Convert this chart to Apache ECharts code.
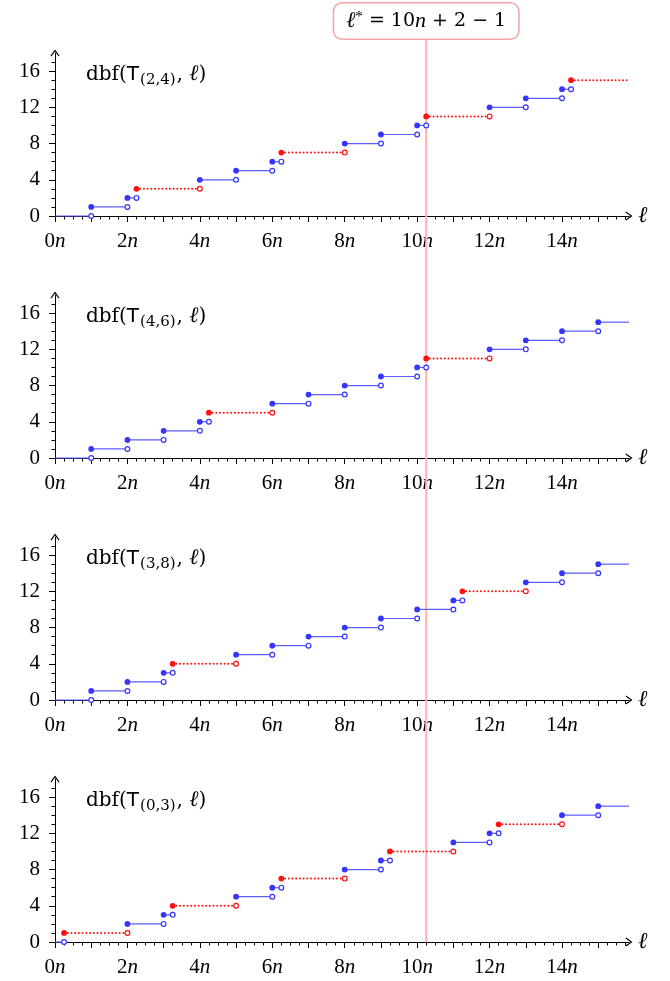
<!DOCTYPE html>
<html>
<head>
<meta charset="utf-8">
<script src="https://cdn.jsdelivr.net/npm/echarts@6/dist/echarts.min.js"></script>
<style>
html, body { margin: 0; padding: 0; background: #fff; }
#chart { width: 670px; height: 981px; }
</style>
</head>
<body>
<div id="chart"></div>
<script>
// x positions are in units of n; each step starts at starts[i] with value levels[i]
const panelNames = ['(2,4)', '(4,6)', '(3,8)', '(0,3)'];

const starts24 = [0, 1, 2, 2.25, 4, 5, 6, 6.25, 8, 9, 10, 10.25, 12, 13, 14, 14.25];
const levels24 = [0, 1, 2, 3, 4, 5, 6, 7, 8, 9, 10, 11, 12, 13, 14, 15];
const red24 = [3, 7, 11, 15];

const starts46 = [0, 1, 2, 3, 4, 4.25, 6, 7, 8, 9, 10, 10.25, 12, 13, 14, 15];
const levels46 = [0, 1, 2, 3, 4, 5, 6, 7, 8, 9, 10, 11, 12, 13, 14, 15];
const red46 = [5, 11];

const starts38 = [0, 1, 2, 3, 3.25, 5, 6, 7, 8, 9, 10, 11, 11.25, 13, 14, 15];
const levels38 = [0, 1, 2, 3, 4, 5, 6, 7, 8, 9, 10, 11, 12, 13, 14, 15];
const red38 = [4, 12];

const starts03 = [0, 0.25, 2, 3, 3.25, 5, 6, 6.25, 8, 9, 9.25, 11, 12, 12.25, 14, 15];
const levels03 = [0, 1, 2, 3, 4, 5, 6, 7, 8, 9, 10, 11, 12, 13, 14, 15];
const red03 = [1, 4, 7, 10, 13];

const xTickLabels = [0, 2, 4, 6, 8, 10, 12, 14];
const xMajorTicks = [0, 1, 2, 3, 4, 5, 6, 7, 8, 9, 10, 11, 12, 13, 14, 15];
const yTickLabels = [0, 4, 8, 12, 16];
const lStar = 10.25;
const xEnd = 15.85;
const yMax = 18;

const panels = [
  [starts24, levels24, red24],
  [starts46, levels46, red46],
  [starts38, levels38, red38],
  [starts03, levels03, red03]
];

const xMinorTicks = [];
for (let v = 0.25; v < xEnd; v += 0.25) xMinorTicks.push(v);
const yMinorTicks = [];
for (let v = 1; v < yMax; v++) yMinorTicks.push(v);

const BLUE = '#3535ff';
const BLUE_LINE = '#5c5cff';
const RED = '#ff1010';
const serif = 'Liberation Serif, DejaVu Serif, serif';
const wideSerif = 'DejaVu Serif, Liberation Serif, serif';

function segments(starts, levels, red) {
  return starts.map(function (s, i) {
    const last = i === starts.length - 1;
    const end = last ? xEnd : starts[i + 1];
    return [s, end, levels[i], red.indexOf(levels[i]) >= 0 ? 1 : 0, i === 0 ? 1 : 0, last ? 1 : 0];
  });
}

function renderStep(params, api) {
  const y = api.value(2);
  const p0 = api.coord([api.value(0), y]);
  const p1 = api.coord([api.value(1), y]);
  const isRed = api.value(3) === 1;
  const c = isRed ? RED : BLUE;
  const children = [{
    type: 'line',
    shape: { x1: p0[0], y1: p0[1], x2: p1[0], y2: p1[1] },
    style: isRed
      ? { stroke: RED, lineWidth: 2, lineDash: [0.01, 3.7], lineCap: 'round' }
      : { stroke: BLUE_LINE, lineWidth: 1.2 }
  }];
  if (api.value(4) !== 1) {
    children.push({ type: 'circle', shape: { cx: p0[0], cy: p0[1], r: 2.9 }, style: { fill: c } });
  }
  if (api.value(5) !== 1) {
    children.push({ type: 'circle', shape: { cx: p1[0], cy: p1[1], r: 2.4 }, style: { fill: '#fff', stroke: c, lineWidth: 1.2 } });
  }
  return { type: 'group', children: children };
}

const axisTops = [53, 295, 537, 779];
const arrowPath = 'path://M5,0 L10,7 L9,7.8 L5,2.2 L1,7.8 L0,7 Z';

const grids = [], xAxes = [], yAxes = [], series = [], titles = [];

axisTops.forEach(function (top, i) {
  grids.push({ left: 55, top: top, width: 574, height: 163, containLabel: false, outerBoundsMode: 'none' });

  xAxes.push({
    gridIndex: i, type: 'value', min: 0, max: xEnd, position: 'bottom',
    axisLine: { lineStyle: { color: '#000', width: 1 }, symbol: ['none', arrowPath], symbolSize: [9, 7] },
    axisTick: { customValues: xMajorTicks, length: 6, lineStyle: { color: '#000', width: 1 } },
    axisLabel: {
      customValues: xTickLabels, margin: 15, color: '#000',
      formatter: function (v) { return '{a|' + v + '}{i|n}'; },
      rich: {
        a: { fontFamily: serif, fontSize: 21, color: '#000' },
        i: { fontFamily: serif, fontSize: 21, fontStyle: 'italic', color: '#000' }
      }
    },
    splitLine: { show: false },
    name: 'ℓ', nameLocation: 'end', nameGap: 9,
    nameTextStyle: { fontFamily: serif, fontSize: 23, fontStyle: 'italic', color: '#000', verticalAlign: 'middle', padding: [0, 0, 2, 0] }
  });
  // second axis only carries the short quarter ticks
  xAxes.push({
    gridIndex: i, type: 'value', min: 0, max: xEnd, position: 'bottom',
    axisLine: { show: true, lineStyle: { color: 'rgba(0,0,0,0)' } },
    axisTick: { show: true, customValues: xMinorTicks, length: 3.5, lineStyle: { color: '#000', width: 1 } },
    axisLabel: { show: false },
    splitLine: { show: false }
  });

  yAxes.push({
    gridIndex: i, type: 'value', min: 0, max: yMax, position: 'left',
    axisLine: { lineStyle: { color: '#000', width: 1 }, symbol: ['none', arrowPath], symbolSize: [9, 7] },
    axisTick: { customValues: yTickLabels, length: 6, lineStyle: { color: '#000', width: 1 } },
    axisLabel: { customValues: yTickLabels, margin: 15, fontFamily: serif, fontSize: 21, color: '#000' },
    splitLine: { show: false }
  });
  yAxes.push({
    gridIndex: i, type: 'value', min: 0, max: yMax, position: 'left',
    axisLine: { show: true, lineStyle: { color: 'rgba(0,0,0,0)' } },
    axisTick: { show: true, customValues: yMinorTicks, length: 3.5, lineStyle: { color: '#000', width: 1 } },
    axisLabel: { show: false },
    splitLine: { show: false }
  });

  const p = panels[i];
  series.push({
    type: 'custom', xAxisIndex: 2 * i, yAxisIndex: 2 * i,
    data: segments(p[0], p[1], p[2]),
    encode: { x: [0, 1], y: 2 },
    renderItem: renderStep, clip: false, z: 3, silent: true
  });
  // empty series so the tick-only axes are laid out too
  series.push({
    type: 'line', xAxisIndex: 2 * i + 1, yAxisIndex: 2 * i + 1,
    data: [], silent: true, showSymbol: false
  });

  titles.push({
    left: 81, top: top + 3,
    text: '{r|dbf(}{t|T}{s|' + panelNames[i] + '}{r|, }{l|ℓ}{r|)}',
    textStyle: {
      fontWeight: 'normal',
      rich: {
        r: { fontFamily: wideSerif, fontSize: 20, fontWeight: 'normal', color: '#000' },
        t: { fontFamily: 'DejaVu Sans, Liberation Sans, sans-serif', fontSize: 20, fontWeight: 'normal', color: '#000' },
        s: { fontFamily: wideSerif, fontSize: 15, fontWeight: 'normal', color: '#000', padding: [12, 1, 0, 1] },
        l: { fontFamily: serif, fontSize: 22, fontStyle: 'italic', fontWeight: 'normal', color: '#000' }
      }
    }
  });
});

const chart = echarts.init(document.getElementById('chart'), null, { renderer: 'canvas' });
chart.setOption({
  animation: false,
  backgroundColor: '#fff',
  title: titles,
  grid: grids,
  xAxis: xAxes,
  yAxis: yAxes,
  series: series
});

// vertical marker at l* spanning all panels, with its label on top
const px = chart.convertToPixel({ gridIndex: 0 }, [lStar, 0])[0];
const yBottom = chart.convertToPixel({ gridIndex: 3 }, [lStar, 0])[1];
chart.setOption({
  graphic: [
    {
      type: 'line', z: 1,
      shape: { x1: px, y1: 36, x2: px, y2: yBottom },
      style: { stroke: '#ffb4b4', lineWidth: 2 }
    },
    {
      type: 'text', z: 10, x: px, y: 21,
      style: {
        text: '{i|ℓ}{sup|*}{r| = 10}{i|n}{r| + 2 − 1}',
        align: 'center', verticalAlign: 'middle',
        backgroundColor: '#fff', borderColor: '#f4a3a3', borderWidth: 1.5, borderRadius: 8,
        padding: [6, 12, 5, 12],
        rich: {
          i: { fontFamily: serif, fontSize: 22, fontStyle: 'italic', fill: '#000' },
          r: { fontFamily: wideSerif, fontSize: 19, fill: '#000' },
          sup: { fontFamily: serif, fontSize: 15, fill: '#000', padding: [0, 0, 9, 0] }
        }
      }
    }
  ]
});
</script>
</body>
</html>
